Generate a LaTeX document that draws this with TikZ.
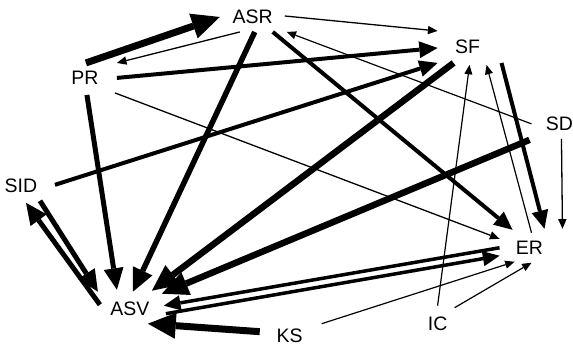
\documentclass[tikz,border=0pt]{standalone}
\usepackage{fontspec}
\setmainfont{Liberation Sans}
\usetikzlibrary{arrows.meta}
\tikzset{
  lab/.style={font=\fontsize{19.5}{21}\selectfont, inner sep=0pt},
  ed/.code={\pgfmathsetmacro\arl{5.5+3.2*#1}\pgfmathsetmacro\arw{4.5+3.1*#1}%
    \edef\edtmp{\noexpand\tikzset{line width=#1pt,-{Triangle[length=\arl pt,width=\arw pt,line width=0pt]}}}\edtmp}
}
\begin{document}
\begin{tikzpicture}[x=1pt,y=-1pt]
\fill[white] (0,0) rectangle (573,347);
\node[lab] (PR)  at (85,78)   {PR};
\node[lab] (ASR) at (253,17)  {ASR};
\node[lab] (SF)  at (468,47)  {SF};
\node[lab] (SD)  at (560,124) {SD};
\node[lab] (SID) at (21,186)  {SID};
\node[lab] (ER)  at (530,248) {ER};
\node[lab] (ASV) at (130,309) {ASV};
\node[lab] (KS)  at (290,336) {KS};
\node[lab] (IC)  at (438,324) {IC};
% edges
\draw[ed=7]   ([shift={(1,-15)}]PR.center)   -- ([shift={(-33,0)}]ASR.center);
\draw[ed=1.3] ([shift={(-13,15)}]ASR.center) -- ([shift={(32,-15)}]PR.center);
\draw[ed=1.3] ([shift={(32,-1)}]ASR.center)  -- ([shift={(-30,-16)}]SF.center);
\draw[ed=1.2] ([shift={(-28,0)}]SD.center)   -- ([shift={(34,15)}]ASR.center);
\draw[ed=4]   ([shift={(32,0)}]PR.center)    -- ([shift={(-30,1)}]SF.center);
\draw[ed=4]   ([shift={(34,-1)}]SID.center)  -- ([shift={(-30,16)}]SF.center);
\draw[ed=6.5] ([shift={(-14,16)}]SF.center)  -- ([shift={(22,-18)}]ASV.center);
\draw[ed=5.5] ([shift={(2,15)}]ASR.center)   -- ([shift={(3,-17)}]ASV.center);
\draw[ed=4]   ([shift={(20,15)}]ASR.center)  -- ([shift={(-17,-18)}]ER.center);
\draw[ed=5]   ([shift={(2,17)}]PR.center)    -- ([shift={(-13,-19)}]ASV.center);
\draw[ed=1.3] ([shift={(30,15)}]PR.center)   -- ([shift={(-30,-9)}]ER.center);
\draw[ed=1.2] ([shift={(0,-18)}]IC.center)   -- ([shift={(2,18)}]SF.center);
\draw[ed=1.2] ([shift={(2,-15)}]ER.center)   -- ([shift={(19,18)}]SF.center);
\draw[ed=4]   ([shift={(34,16)}]SF.center)   -- ([shift={(15,-19)}]ER.center);
\draw[ed=1.3] ([shift={(2,15)}]SD.center)    -- ([shift={(33,-19)}]ER.center);
\draw[ed=6.5] ([shift={(-30,16)}]SD.center)  -- ([shift={(32,-15)}]ASV.center);
\draw[ed=5]   ([shift={(-30,-4)}]ASV.center) -- ([shift={(5,17)}]SID.center);
\draw[ed=5]   ([shift={(19,15)}]SID.center)  -- ([shift={(-32,-17)}]ASV.center);
\draw[ed=3.5] ([shift={(-30,0)}]ER.center)   -- ([shift={(34,-3)}]ASV.center);
\draw[ed=3.5] ([shift={(36,5)}]ASV.center)   -- ([shift={(-30,8)}]ER.center);
\draw[ed=7]   ([shift={(-30,-4)}]KS.center)  -- ([shift={(18,15)}]ASV.center);
\draw[ed=1.2] ([shift={(32,-12)}]KS.center)  -- ([shift={(-15,14)}]ER.center);
\draw[ed=1.2] ([shift={(17,-16)}]IC.center)  -- ([shift={(2,15)}]ER.center);
\end{tikzpicture}
\end{document}
